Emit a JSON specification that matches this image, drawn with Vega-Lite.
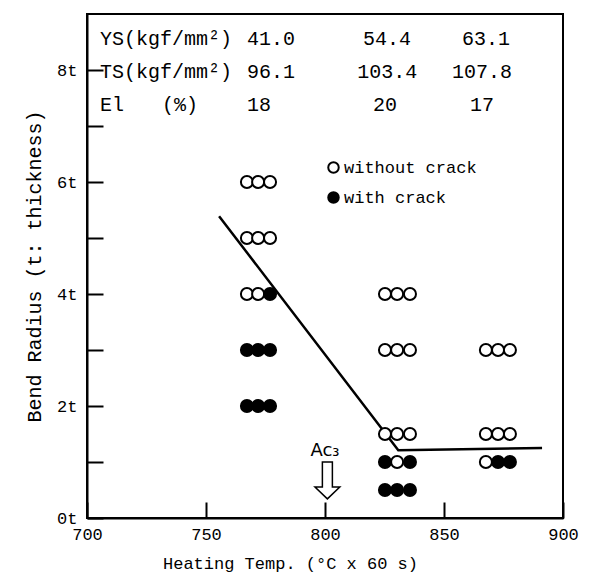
{
  "$schema": "https://vega.github.io/schema/vega-lite/v6.json",
  "width": 476,
  "height": 504,
  "autosize": "none",
  "padding": {"left": 87, "top": 14, "right": 29, "bottom": 61},
  "background": "white",
  "config": {
    "view": {"stroke": "black", "strokeWidth": 2},
    "font": "Liberation Mono",
    "axis": {
      "grid": false,
      "domainColor": "black",
      "domainWidth": 2,
      "tickColor": "black",
      "tickWidth": 2,
      "labelColor": "black",
      "titleColor": "black",
      "labelFont": "Liberation Mono",
      "titleFont": "Liberation Mono",
      "labelFontSize": 17,
      "titleFontSize": 17,
      "titleFontWeight": "normal"
    }
  },
  "datasets": {
    "points": [
      {"temp": 767.2, "radius": 6, "crack": "without crack"},
      {"temp": 771.9, "radius": 6, "crack": "without crack"},
      {"temp": 776.9, "radius": 6, "crack": "without crack"},
      {"temp": 767.2, "radius": 5, "crack": "without crack"},
      {"temp": 771.9, "radius": 5, "crack": "without crack"},
      {"temp": 776.9, "radius": 5, "crack": "without crack"},
      {"temp": 767.2, "radius": 4, "crack": "without crack"},
      {"temp": 771.9, "radius": 4, "crack": "without crack"},
      {"temp": 776.9, "radius": 4, "crack": "with crack"},
      {"temp": 767.2, "radius": 3, "crack": "with crack"},
      {"temp": 771.9, "radius": 3, "crack": "with crack"},
      {"temp": 776.9, "radius": 3, "crack": "with crack"},
      {"temp": 767.2, "radius": 2, "crack": "with crack"},
      {"temp": 771.9, "radius": 2, "crack": "with crack"},
      {"temp": 776.9, "radius": 2, "crack": "with crack"},
      {"temp": 825.2, "radius": 4, "crack": "without crack"},
      {"temp": 830.3, "radius": 4, "crack": "without crack"},
      {"temp": 835.7, "radius": 4, "crack": "without crack"},
      {"temp": 825.2, "radius": 3, "crack": "without crack"},
      {"temp": 830.3, "radius": 3, "crack": "without crack"},
      {"temp": 835.7, "radius": 3, "crack": "without crack"},
      {"temp": 825.2, "radius": 1.5, "crack": "without crack"},
      {"temp": 830.3, "radius": 1.5, "crack": "without crack"},
      {"temp": 835.7, "radius": 1.5, "crack": "without crack"},
      {"temp": 825.2, "radius": 1, "crack": "with crack"},
      {"temp": 835.7, "radius": 1, "crack": "with crack"},
      {"temp": 830.3, "radius": 1, "crack": "without crack"},
      {"temp": 825.2, "radius": 0.5, "crack": "with crack"},
      {"temp": 830.3, "radius": 0.5, "crack": "with crack"},
      {"temp": 835.7, "radius": 0.5, "crack": "with crack"},
      {"temp": 867.6, "radius": 3, "crack": "without crack"},
      {"temp": 872.7, "radius": 3, "crack": "without crack"},
      {"temp": 877.7, "radius": 3, "crack": "without crack"},
      {"temp": 867.6, "radius": 1.5, "crack": "without crack"},
      {"temp": 872.7, "radius": 1.5, "crack": "without crack"},
      {"temp": 877.7, "radius": 1.5, "crack": "without crack"},
      {"temp": 872.7, "radius": 1, "crack": "with crack"},
      {"temp": 877.7, "radius": 1, "crack": "with crack"},
      {"temp": 867.6, "radius": 1, "crack": "without crack"}
    ],
    "line": [
      {"temp": 755.5, "radius": 5.39},
      {"temp": 830.8, "radius": 1.21},
      {"temp": 891.2, "radius": 1.25}
    ],
    "table": [
      {"temp": 705.5, "radius": 8.56, "label": "YS(kgf/mm²)"},
      {"temp": 705.5, "radius": 7.96, "label": "TS(kgf/mm²)"},
      {"temp": 705.5, "radius": 7.37, "label": "El"},
      {"temp": 731.5, "radius": 7.37, "label": "(%)"},
      {"temp": 767.2, "radius": 8.56, "label": "41.0"},
      {"temp": 767.2, "radius": 7.96, "label": "96.1"},
      {"temp": 767.2, "radius": 7.37, "label": "18"},
      {"temp": 816.0, "radius": 8.56, "label": "54.4"},
      {"temp": 813.5, "radius": 7.96, "label": "103.4"},
      {"temp": 820.2, "radius": 7.37, "label": "20"},
      {"temp": 857.6, "radius": 8.56, "label": "63.1"},
      {"temp": 853.4, "radius": 7.96, "label": "107.8"},
      {"temp": 860.9, "radius": 7.37, "label": "17"}
    ],
    "ac3": [
      {"temp": 800, "radius": 1.2, "label": "Ac₃"}
    ],
    "arrow": [
      {"temp": 801, "radius": 0.67}
    ]
  },
  "encoding": {
    "x": {
      "field": "temp",
      "type": "quantitative",
      "scale": {"domain": [700, 900], "nice": false, "zero": false},
      "axis": {
        "values": [700, 750, 800, 850, 900],
        "tickSize": -16,
        "labelPadding": 24,
        "labelFlush": false,
        "title": "Heating Temp. (°C x 60 s)",
        "titlePadding": 13,
        "titleX": 203
      }
    },
    "y": {
      "field": "radius",
      "type": "quantitative",
      "scale": {"domain": [0, 9], "nice": false, "zero": false},
      "axis": {
        "values": [0, 1, 2, 3, 4, 5, 6, 7, 8],
        "labelExpr": "datum.value % 2 == 0 ? datum.value + 't' : ''",
        "tickSize": -16,
        "labelPadding": 26,
        "title": "Bend Radius (t: thickness)",
        "titleFontSize": 20,
        "titlePadding": 12
      }
    }
  },
  "layer": [
    {
      "data": {"name": "line"},
      "mark": {"type": "line", "color": "black", "strokeWidth": 2.5}
    },
    {
      "data": {"name": "points"},
      "mark": {"type": "point", "shape": "circle", "filled": true, "size": 145, "stroke": "black", "strokeWidth": 2, "opacity": 1},
      "encoding": {
        "fill": {
          "field": "crack",
          "type": "nominal",
          "scale": {"domain": ["without crack", "with crack"], "range": ["white", "black"]},
          "legend": {
            "title": null,
            "orient": "none",
            "legendX": 238,
            "legendY": 145,
            "padding": 0,
            "symbolSize": 110,
            "symbolStrokeColor": "black",
            "symbolStrokeWidth": 2,
            "symbolType": "circle",
            "labelFont": "Liberation Mono",
            "labelFontSize": 17,
            "labelColor": "black",
            "labelOffset": 2,
            "rowPadding": 11
          }
        }
      }
    },
    {
      "data": {"name": "table"},
      "mark": {"type": "text", "align": "left", "baseline": "middle", "font": "Liberation Mono", "fontSize": 20, "color": "black"},
      "encoding": {"text": {"field": "label"}}
    },
    {
      "data": {"name": "ac3"},
      "mark": {"type": "text", "align": "center", "baseline": "middle", "font": "DejaVu Sans", "fontSize": 18, "color": "black"},
      "encoding": {"text": {"field": "label"}}
    },
    {
      "data": {"name": "arrow"},
      "mark": {"type": "point", "shape": "M -0.25 -0.92 L 0.25 -0.92 L 0.25 0.33 L 0.62 0.33 L 0 0.92 L -0.62 0.33 L -0.25 0.33 Z", "size": 1600, "filled": true, "fill": "white", "stroke": "black", "strokeWidth": 1.5, "opacity": 1}
    }
  ]
}
